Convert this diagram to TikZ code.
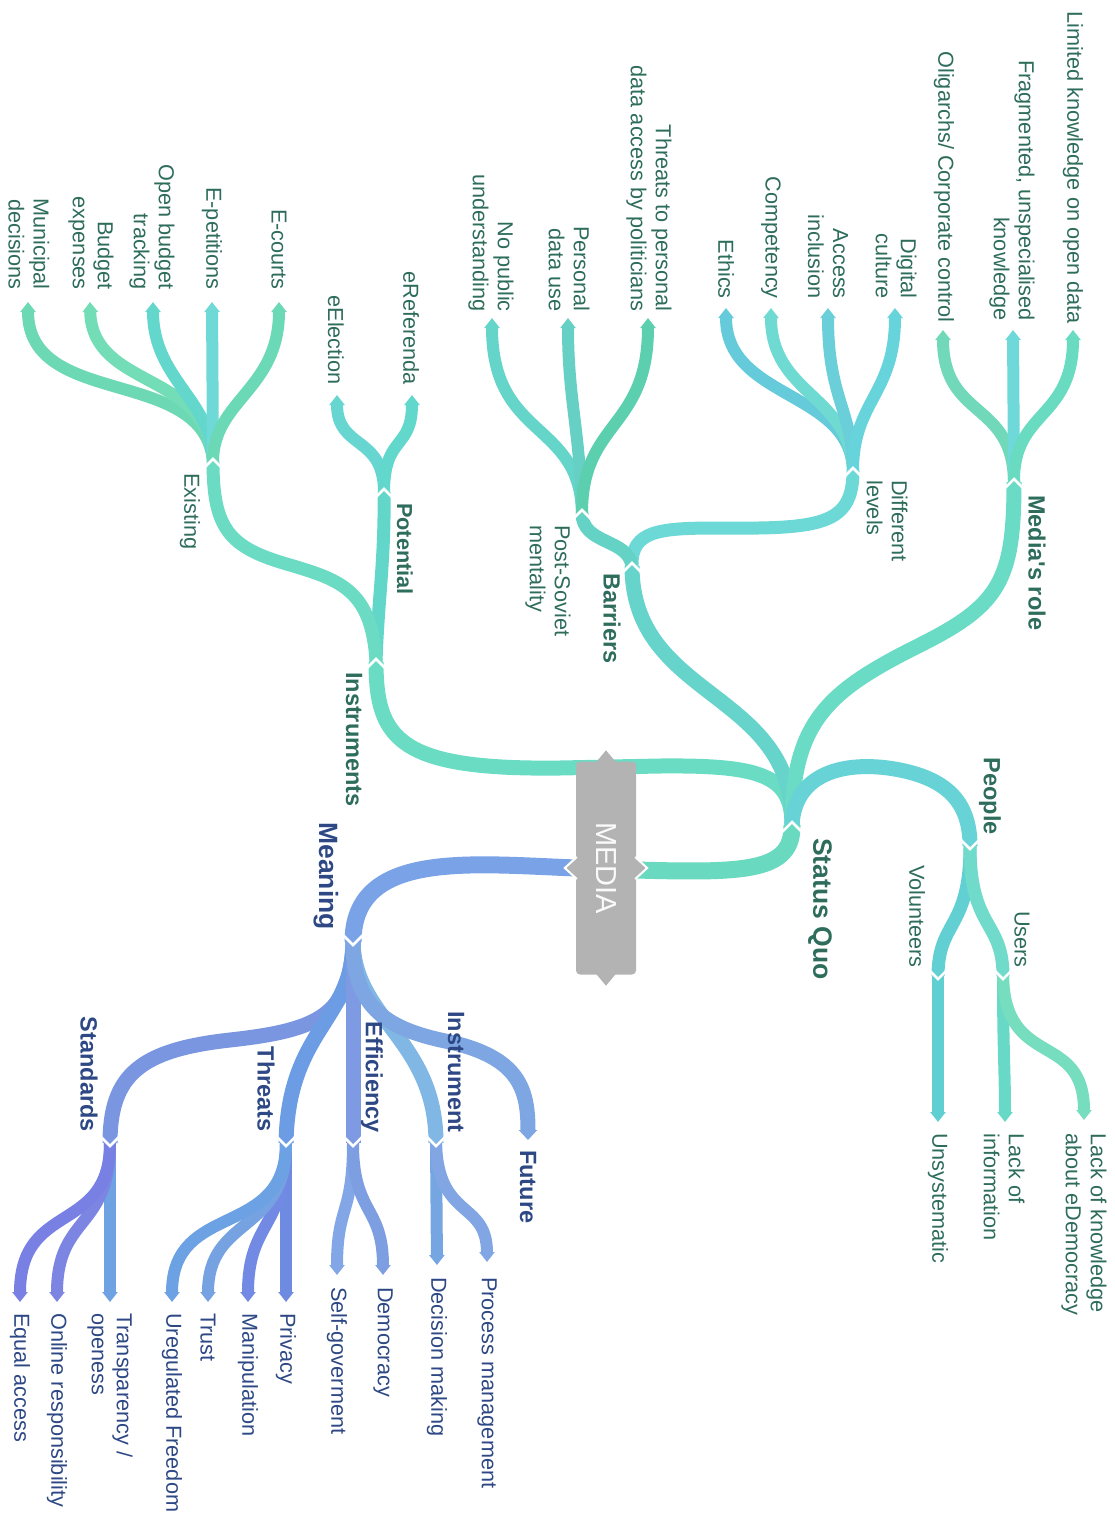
\documentclass[tikz,border=0pt]{standalone}
\usepackage{fontspec}
\setmainfont{Liberation Sans}
\usetikzlibrary{arrows.meta}

\definecolor{gtext}{HTML}{2E6C5C}
\definecolor{btext}{HTML}{2D4884}
\definecolor{mgrey}{HTML}{B3B3B3}
\definecolor{cSQ}{HTML}{69D9C0}
\definecolor{cIns}{HTML}{6ADCC4}
\definecolor{cPot}{HTML}{62D6C9}
\definecolor{cExi}{HTML}{6CDBC4}
\definecolor{cBar}{HTML}{67D4CC}
\definecolor{cDL}{HTML}{6DD9D6}
\definecolor{cPS}{HTML}{64D3C5}
\definecolor{cMR}{HTML}{6ADBC5}
\definecolor{cPpl}{HTML}{67D3D6}
\definecolor{cVol}{HTML}{62CFD3}
\definecolor{cUsr}{HTML}{70DBCA}
\definecolor{cMun}{HTML}{6DD8B4}
\definecolor{cBud}{HTML}{72DDB6}
\definecolor{cObt}{HTML}{64D7CD}
\definecolor{cEpe}{HTML}{6FD9D8}
\definecolor{cEco}{HTML}{6CD9B6}
\definecolor{cEel}{HTML}{68D6D0}
\definecolor{cEre}{HTML}{62D7CC}
\definecolor{cNpu}{HTML}{65D5CA}
\definecolor{cPdu}{HTML}{67D0C4}
\definecolor{cTpd}{HTML}{5BCFAE}
\definecolor{cEth}{HTML}{65CBDA}
\definecolor{cCom}{HTML}{6FDAD1}
\definecolor{cAcc}{HTML}{6ACFD8}
\definecolor{cDig}{HTML}{67D4DB}
\definecolor{cOli}{HTML}{71D9B9}
\definecolor{cFra}{HTML}{6FD9D9}
\definecolor{cLim}{HTML}{68DBC1}
\definecolor{cUns}{HTML}{5FCFD1}
\definecolor{cLai}{HTML}{68D9C6}
\definecolor{cLak}{HTML}{76DDBE}
\definecolor{cMea}{HTML}{7AA2E6}
\definecolor{cStd}{HTML}{7A96E0}
\definecolor{cThr}{HTML}{6C9DE4}
\definecolor{cEff}{HTML}{7E9AE3}
\definecolor{cIst}{HTML}{80B7E4}
\definecolor{cFut}{HTML}{7EA6E2}
\definecolor{cEqa}{HTML}{7880E4}
\definecolor{cOnr}{HTML}{7C86E2}
\definecolor{cTra}{HTML}{6FA2E2}
\definecolor{cUre}{HTML}{6CA2E3}
\definecolor{cTru}{HTML}{76A2E1}
\definecolor{cMan}{HTML}{728AE4}
\definecolor{cPri}{HTML}{6E8AE1}
\definecolor{cSgo}{HTML}{82A6E6}
\definecolor{cDem}{HTML}{7E9EE2}
\definecolor{cDec}{HTML}{76A6E1}
\definecolor{cPro}{HTML}{82A6E3}

\begin{document}
\begin{tikzpicture}[x=1pt,y=-1pt,
  lbl/.style={inner sep=0pt, rotate=-90, font=\fontsize{21.7}{25}\selectfont},
  lbb/.style={lbl, font=\fontsize{21.7}{25}\selectfont\bfseries},
  lb2/.style={lbl, font=\fontsize{23.5}{27}\selectfont\bfseries},
  lb1/.style={lbl, font=\fontsize{26.5}{30}\selectfont\bfseries},
  endat/.style={anchor=east, align=right},
  startat/.style={anchor=west, align=left},
  gt/.style={text=gtext}, bt/.style={text=btext},
  b1/.style={draw=#1, line width=17pt},
  b2/.style={draw=#1, line width=15pt},
  b3/.style={draw=#1, line width=13pt},
  lf/.style={draw=#1, line width=12pt, -{Triangle[length=10pt,width=15pt]}},
  chev/.style={draw=white, line width=2.5pt},
  media/.style={rotate=-90, fill=mgrey, text=white!96!gray, rounded corners=4pt,
    minimum width=213pt, minimum height=60pt, inner sep=0pt,
    font=\fontsize{29}{33}\selectfont}]
  \useasboundingbox (0,0) rectangle (1114,1517);
  \def\notchup{+(-10,7) -- +(0,-3) -- +(10,7)}
  \def\notchdn{+(-10,-7) -- +(0,3) -- +(10,-7)}

  % junctions
  \coordinate (medR) at (636,870);
  \coordinate (medL) at (576,868);
  \coordinate (sq) at (792,825);
  \coordinate (ins) at (376,662);
  \coordinate (pot) at (384,492);
  \coordinate (ex) at (213,462);
  \coordinate (bar) at (632,566);
  \coordinate (ps) at (582,513);
  \coordinate (dl) at (853,471);
  \coordinate (mr) at (1014,482);
  \coordinate (ppl) at (970,846);
  \coordinate (vol) at (938,976);
  \coordinate (usr) at (1003,976);
  \coordinate (mea) at (353,942);
  \coordinate (std) at (110,1143);
  \coordinate (thr) at (286,1143);
  \coordinate (eff) at (353,1143);
  \coordinate (ist) at (436,1143);

  % leaf tips
  \coordinate (mun) at (28,302);
  \coordinate (bud) at (90,302);
  \coordinate (obt) at (153,302);
  \coordinate (epe) at (212,302);
  \coordinate (eco) at (279,302);
  \coordinate (eel) at (337,395);
  \coordinate (ere) at (412,395);
  \coordinate (npu) at (492,318);
  \coordinate (pdu) at (568,318);
  \coordinate (tpd) at (648,318);
  \coordinate (eth) at (726,308);
  \coordinate (com) at (771,308);
  \coordinate (acc) at (828,308);
  \coordinate (dig) at (895,308);
  \coordinate (oli) at (943,330);
  \coordinate (fra) at (1013,330);
  \coordinate (lim) at (1073,330);
  \coordinate (uns) at (938,1122);
  \coordinate (lai) at (1005,1122);
  \coordinate (lak) at (1084,1120);
  \coordinate (eqa) at (20,1302);
  \coordinate (onr) at (57,1302);
  \coordinate (tra) at (110,1302);
  \coordinate (ure) at (172,1302);
  \coordinate (tru) at (208,1302);
  \coordinate (man) at (248,1302);
  \coordinate (pri) at (286,1302);
  \coordinate (sgo) at (337,1275);
  \coordinate (dem) at (383,1275);
  \coordinate (dec) at (437,1265);
  \coordinate (pro) at (487,1262);
  \coordinate (fut) at (528,1140);

  % Status Quo side
  \draw[lf=cMun] (ex) .. controls (205,365) and (28,410) .. (mun);
  \draw[lf=cBud] (ex) .. controls (210,370) and (92,390) .. (bud);
  \draw[lf=cObt] (ex) .. controls (213,400) and (153,380) .. (obt);
  \draw[lf=cEpe] (ex) -- (epe);
  \draw[lf=cEco] (ex) .. controls (213,400) and (279,390) .. (eco);
  \draw[lf=cEel] (pot) .. controls (384,435) and (337,450) .. (eel);
  \draw[lf=cEre] (pot) .. controls (384,435) and (412,450) .. (ere);
  \draw[lf=cNpu] (ps) .. controls (580,420) and (492,440) .. (npu);
  \draw[lf=cPdu] (ps) .. controls (580,430) and (568,400) .. (pdu);
  \draw[lf=cTpd] (ps) .. controls (582,420) and (648,430) .. (tpd);
  \draw[lf=cEth] (dl) .. controls (851,390) and (726,400) .. (eth);
  \draw[lf=cCom] (dl) .. controls (851,395) and (771,395) .. (com);
  \draw[lf=cAcc] (dl) .. controls (853,410) and (828,400) .. (acc);
  \draw[lf=cDig] (dl) .. controls (853,400) and (895,395) .. (dig);
  \draw[lf=cOli] (mr) .. controls (1013,400) and (943,420) .. (oli);
  \draw[lf=cFra] (mr) -- (fra);
  \draw[lf=cLim] (mr) .. controls (1013,410) and (1073,420) .. (lim);
  \draw[lf=cUns] (vol) -- (uns);
  \draw[lf=cLai] (usr) .. controls (1003,1050) and (1005,1070) .. (lai);
  \draw[lf=cLak] (usr) .. controls (1005,1070) and (1084,1030) .. (lak);

  \draw[b3=cPot] (ins) .. controls (378,600) and (385,560) .. (pot);
  \draw[b3=cExi] (ins) .. controls (372,590) and (340,580) .. (290,565)
    .. controls (230,548) and (213,530) .. (ex);
  \draw[b3=cDL] (bar) .. controls (631,530) and (660,528) .. (720,528)
    .. controls (820,529) and (853,525) .. (dl);
  \draw[b3=cPS] (bar) .. controls (628,538) and (582,545) .. (ps);
  \draw[b3=cVol] (ppl) .. controls (970,930) and (938,920) .. (vol);
  \draw[b3=cUsr] (ppl) .. controls (970,930) and (1003,920) .. (usr);

  \draw[b2=cIns] (sq) .. controls (792,775) and (760,765) .. (660,766) -- (560,768)
    .. controls (400,770) and (376,740) .. (ins);
  \draw[b2=cBar] (sq) .. controls (795,690) and (632,700) .. (bar);
  \draw[b2=cMR] (sq) .. controls (792,720) and (830,690) .. (920,645)
    .. controls (1000,605) and (1014,580) .. (mr);
  \draw[b2=cPpl] (sq) .. controls (795,770) and (850,760) .. (900,770)
    .. controls (950,780) and (970,805) .. (ppl);
  \draw[b1=cSQ] (medR) .. controls (745,873) and (793,872) .. (sq);

  % Meaning side
  \draw[lf=cTra] (std) -- (tra);
  \draw[lf=cOnr] (std) .. controls (110,1230) and (57,1215) .. (onr);
  \draw[lf=cEqa] (std) .. controls (110,1235) and (20,1200) .. (eqa);
  \draw[lf=cPri] (thr) -- (pri);
  \draw[lf=cMan] (thr) .. controls (286,1230) and (248,1220) .. (man);
  \draw[lf=cTru] (thr) .. controls (286,1235) and (208,1215) .. (tru);
  \draw[lf=cUre] (thr) .. controls (286,1240) and (172,1200) .. (ure);
  \draw[lf=cSgo] (eff) .. controls (353,1215) and (337,1205) .. (sgo);
  \draw[lf=cDem] (eff) .. controls (353,1215) and (383,1205) .. (dem);
  \draw[lf=cDec] (ist) -- (dec);
  \draw[lf=cPro] (ist) .. controls (438,1220) and (487,1200) .. (pro);

  \draw[b2=cStd] (mea) .. controls (350,1015) and (320,1030) .. (230,1040)
    .. controls (140,1050) and (110,1075) .. (std);
  \draw[b2=cThr] (mea) .. controls (353,1020) and (288,1030) .. (thr);
  \draw[b2=cEff] (mea) -- (eff);
  \draw[b2=cIst] (mea) .. controls (355,1020) and (436,1040) .. (ist);
  \draw[b2=cFut, -{Triangle[length=10pt,width=18pt]}] (mea) .. controls (353,1010) and (390,1030) .. (450,1042)
    .. controls (520,1058) and (528,1090) .. (fut);
  \draw[b1=cMea] (medL) .. controls (470,864) and (353,850) .. (mea);

  \draw[chev] (sq) \notchup (ins) \notchup (pot) \notchup (ex) \notchup
    (bar) \notchup (ps) \notchup (dl) \notchup (mr) \notchup;
  \draw[chev] (ppl) \notchdn (vol) \notchdn (usr) \notchdn (mea) \notchdn
    (std) \notchdn (thr) \notchdn (eff) \notchdn (ist) \notchdn;

  % centre
  \node[media] (media) at (606,868) {MEDIA};
  \fill[mgrey] (media.west) +(-10,1) -- +(0,-11) -- +(10,1) -- cycle;
  \fill[mgrey] (media.east) +(-10,-1) -- +(0,11) -- +(10,-1) -- cycle;
  \filldraw[fill=mgrey, draw=white, line width=2pt] (media.south) +(1,-11) -- +(-11,0) -- +(1,11);
  \filldraw[fill=mgrey, draw=white, line width=2pt] (media.north) +(-1,-11) -- +(11,0) -- +(-1,11);

  % labels
  \node[lb1, gt, startat] (statusquo) at (820,838) {Status Quo};
  \node[lb2, gt, startat] (instruments) at (354,672) {Instruments};
  \node[lbb, gt, startat] (potential) at (405,503) {Potential};
  \node[lbl, gt, startat] (existing) at (190,473) {Existing};
  \node[lb2, gt, startat] (barriers) at (612,573) {Barriers};
  \node[lbl, gt, startat] (difflevels) at (887,480) {Different\\levels};
  \node[lbl, gt, startat] (postsoviet) at (548,525) {Post-Soviet\\mentality};
  \node[lb2, gt, startat] (mediasrole) at (1037,495) {Media\textquotesingle s role};
  \node[lb2, gt, endat] (people) at (990,835) {People};
  \node[lbl, gt, endat] (volunteers) at (917,968) {Volunteers};
  \node[lbl, gt, endat] (users) at (1022,968) {Users};

  \node[lbl, gt, endat] (municipal) at (29,290) {Municipal\\decisions};
  \node[lbl, gt, endat] (budget) at (91,290) {Budget\\expenses};
  \node[lbl, gt, endat] (openbudget) at (152,290) {Open budget\\tracking};
  \node[lbl, gt, endat] (epetitions) at (212,290) {E-petitions};
  \node[lbl, gt, endat] (ecourts) at (279,290) {E-courts};
  \node[lbl, gt, endat] (eelection) at (336,385) {eElection};
  \node[lbl, gt, endat] (ereferenda) at (411,385) {eReferenda};
  \node[lbl, gt, endat] (nopublic) at (491,312) {No public\\understanding};
  \node[lbl, gt, endat] (personal) at (569,312) {Personal\\data use};
  \node[lbl, gt, endat] (threatsdata) at (649,312) {Threats to personal\\data access by politicians};
  \node[lbl, gt, endat] (ethics) at (726,299) {Ethics};
  \node[lbl, gt, endat] (competency) at (771,299) {Competency};
  \node[lbl, gt, endat] (access) at (828,299) {Access\\inclusion};
  \node[lbl, gt, endat] (digital) at (896,299) {Digital\\culture};
  \node[lbl, gt, endat] (oligarchs) at (944,323) {Oligarchs/ Corporate control};
  \node[lbl, gt, endat] (fragmented) at (1012,321) {Fragmented, unspecialised\\knowledge};
  \node[lbl, gt, endat] (limited) at (1073,324) {Limited knowledge on open data};
  \node[lbl, gt, startat] (unsystematic) at (938,1133) {Unsystematic};
  \node[lbl, gt, startat] (lackinfo) at (1004,1133) {Lack of\\information};
  \node[lbl, gt, startat] (lackknow) at (1084,1133) {Lack of knowledge\\about eDemocracy};

  \node[lb1, bt, endat] (meaning) at (326,930) {Meaning};
  \node[lb2, bt, endat] (standards) at (89,1132) {Standards};
  \node[lb2, bt, endat] (threats) at (266,1132) {Threats};
  \node[lb2, bt, endat] (efficiency) at (372,1133) {Efficiency};
  \node[lb2, bt, endat] (instrument) at (456,1133) {Instrument};
  \node[lb2, bt, startat] (future) at (528,1150) {Future};

  \node[lbl, bt, startat] (equal) at (20,1313) {Equal access};
  \node[lbl, bt, startat] (online) at (57,1313) {Online responsibility};
  \node[lbl, bt, startat] (transparency) at (110,1313) {Transparency /\\openess};
  \node[lbl, bt, startat] (uregulated) at (172,1313) {Uregulated Freedom};
  \node[lbl, bt, startat] (trust) at (208,1313) {Trust};
  \node[lbl, bt, startat] (manipulation) at (248,1313) {Manipulation};
  \node[lbl, bt, startat] (privacy) at (286,1313) {Privacy};
  \node[lbl, bt, startat] (selfgov) at (337,1287) {Self-goverment};
  \node[lbl, bt, startat] (democracy) at (383,1287) {Democracy};
  \node[lbl, bt, startat] (decision) at (437,1277) {Decision making};
  \node[lbl, bt, startat] (process) at (487,1277) {Process management};
\end{tikzpicture}
\end{document}
